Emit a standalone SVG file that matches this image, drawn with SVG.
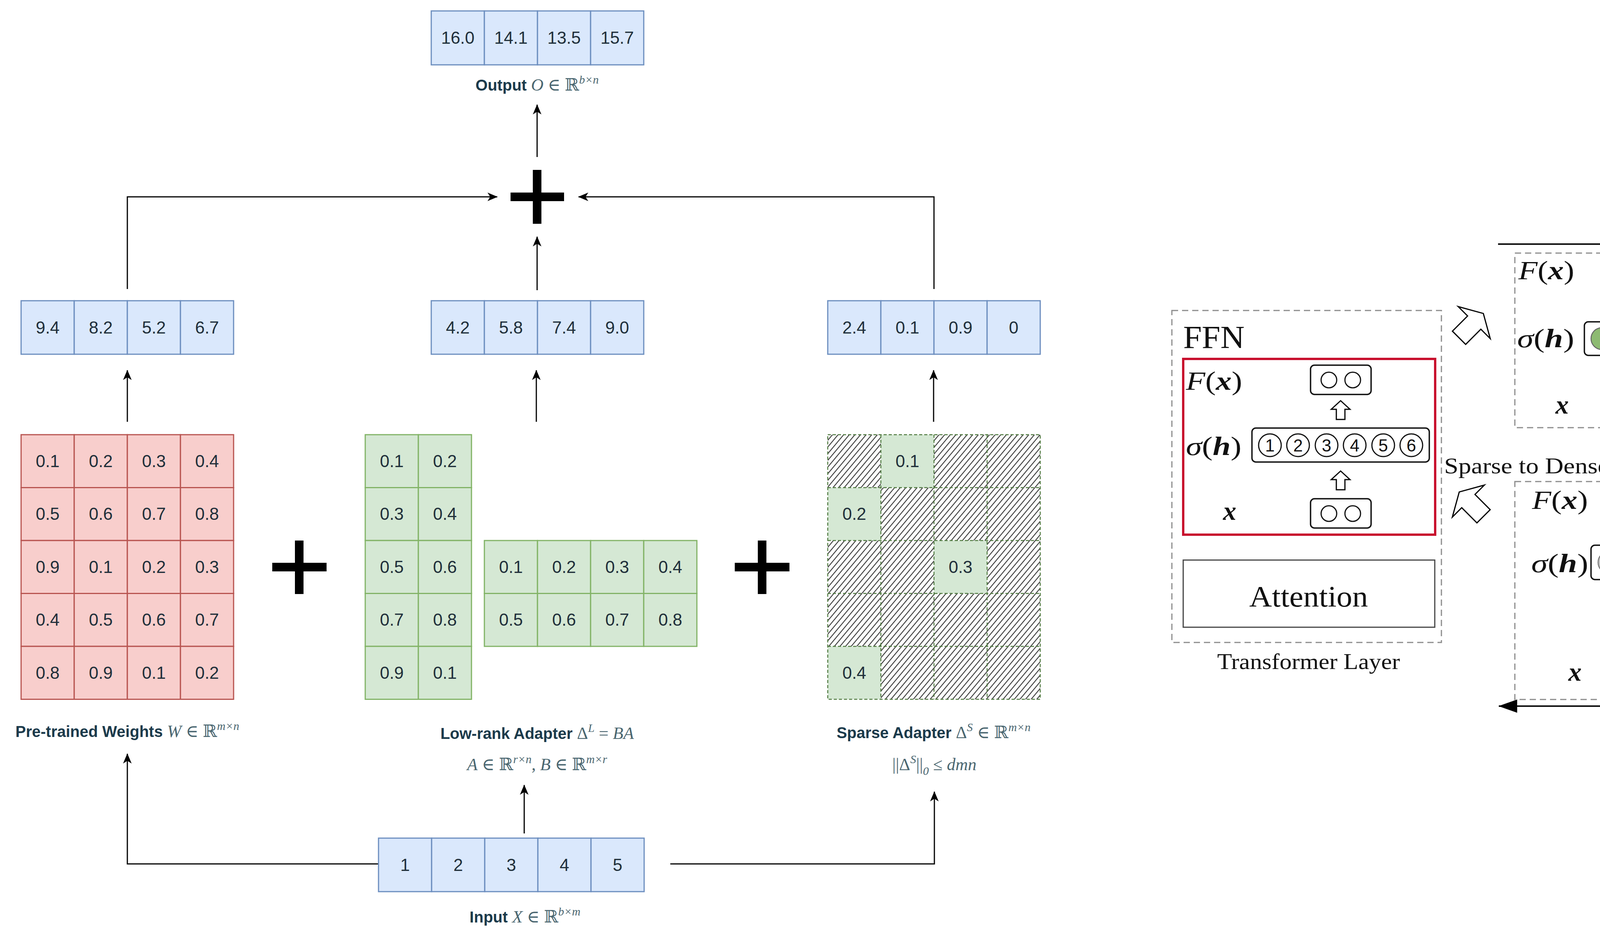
<svg xmlns="http://www.w3.org/2000/svg" xmlns:xlink="http://www.w3.org/1999/xlink" width="6317" height="2435" viewBox="0 0 6317 2435">
<style>
.cb{fill:#dae8fc;stroke:#6c8ebf;stroke-width:3}
.cr{fill:#f8cecc;stroke:#b85450;stroke-width:3}
.cg{fill:#d5e8d4;stroke:#82b366;stroke-width:3}
.ch{fill:url(#hatch);stroke:none}
.cgn{fill:#d5e8d4;stroke:none}
.grid{stroke:#4f7a3f;stroke-width:2.5;stroke-dasharray:8 5;fill:none}
.num{font-family:"Liberation Sans",Arial,sans-serif;font-size:44px;fill:#1f2f3a;text-anchor:middle}
.lb{font-family:"Liberation Sans",Arial,sans-serif;font-weight:bold;font-size:40px;fill:#1b3a4b}
.mi{font-family:"Liberation Serif","DejaVu Serif",serif;font-style:italic;font-size:44px;fill:#4a6670}
.mr{font-family:"Liberation Serif","DejaVu Serif",serif;font-size:44px;fill:#4a6670}
.ms{font-family:"Liberation Serif","DejaVu Serif",serif;font-style:italic;font-size:30px;fill:#4a6670}
.conn{stroke:#000;stroke-width:3;fill:none;marker-end:url(#ah)}
.plus{fill:#000}
.m{font-family:"Liberation Serif","DejaVu Serif",serif;font-size:68px;fill:#111}
.it{font-style:italic}
.bi{font-style:italic;font-weight:bold}
.t{font-family:"Liberation Serif","DejaVu Serif",serif;fill:#111}
.dash{fill:none;stroke:#8c8c8c;stroke-width:3;stroke-dasharray:16 10}
.rb{fill:#fff;stroke:#111;stroke-width:3.5}
.oc{fill:#fff;stroke:#111;stroke-width:3}
.dg{fill:none;stroke:#888;stroke-width:3;stroke-dasharray:12 8}
.G{fill:#8dba72;stroke:#666;stroke-width:2.5}
.P{fill:#97a0d1;stroke:#666;stroke-width:2.5}
.B{fill:#62b4d3;stroke:#666;stroke-width:2.5}
.d{font-family:"Liberation Sans",Arial,sans-serif;font-size:44px;text-anchor:middle}
</style>
<defs>
<marker id="ah" viewBox="0 0 26 22" refX="25" refY="11" markerWidth="26" markerHeight="22" markerUnits="userSpaceOnUse" orient="auto"><path d="M0,0 L26,11 L0,22 L7,11 Z" fill="#000"/></marker>
<marker id="tri" viewBox="0 0 48 34" refX="47" refY="17" markerWidth="48" markerHeight="34" markerUnits="userSpaceOnUse" orient="auto"><path d="M0,0 L48,17 L0,34 Z" fill="#000"/></marker>
<pattern id="hatch" patternUnits="userSpaceOnUse" width="11" height="11" patternTransform="rotate(40)"><line x1="5" y1="0" x2="5" y2="11" stroke="#333" stroke-width="2.2"/></pattern>
<polygon id="ua" points="0,-24 24,-2 11,-2 11,24 -11,24 -11,-2 -24,-2" fill="#fff" stroke="#000" stroke-width="3"/>
<polygon id="bigArrow" points="33,0 0,58 0,24 -55,24 -55,-24 0,-24 0,-58" fill="#fff" stroke="#000" stroke-width="3"/>
<polygon id="smArrow" points="15,0 0,26 0,11 -25,11 -25,-11 0,-11 0,-26" fill="#fff" stroke="#000" stroke-width="3"/>
</defs>
<rect width="6317" height="2435" fill="#fff"/>

<g id="connectors-left">
<polyline class="conn" points="326,740 326,504 1273,504"/>
<polyline class="conn" points="1375,743 1375,606"/>
<polyline class="conn" points="2391,740 2391,504 1481,504"/>
<polyline class="conn" points="1375,402 1375,268"/>
<polyline class="conn" points="326,1080 326,948"/>
<polyline class="conn" points="1373,1080 1373,948"/>
<polyline class="conn" points="2390,1080 2390,948"/>
<polyline class="conn" points="969,2212 326,2212 326,1930"/>
<polyline class="conn" points="1342,2134 1342,2010"/>
<polyline class="conn" points="1716,2212 2392,2212 2392,2027"/>
</g>

<g id="plus-top"><rect class="plus" x="1364" y="435" width="22" height="138"/><rect class="plus" x="1307" y="493" width="137" height="22"/></g>
<g id="plus-1"><rect class="plus" x="755" y="1384" width="22" height="137"/><rect class="plus" x="697" y="1441" width="139" height="22"/></g>
<g id="plus-2"><rect class="plus" x="1940" y="1384" width="22" height="137"/><rect class="plus" x="1881" y="1441" width="140" height="22"/></g>

<g id="output">
<rect class="cb" x="1104" y="28" width="136" height="138"/><rect class="cb" x="1240" y="28" width="136" height="138"/><rect class="cb" x="1376" y="28" width="136" height="138"/><rect class="cb" x="1512" y="28" width="136" height="138"/>
<text class="num" x="1172" y="112">16.0</text><text class="num" x="1308" y="112">14.1</text><text class="num" x="1444" y="112">13.5</text><text class="num" x="1580" y="112">15.7</text>
<text x="1375" y="232" text-anchor="middle"><tspan class="lb">Output </tspan><tspan class="mi">O</tspan><tspan class="mr"> ∈ ℝ</tspan><tspan class="ms" dy="-18">b×n</tspan></text>
</g>

<g id="out-pretrained">
<rect class="cb" x="54" y="770" width="136" height="137"/><rect class="cb" x="190" y="770" width="136" height="137"/><rect class="cb" x="326" y="770" width="136" height="137"/><rect class="cb" x="462" y="770" width="136" height="137"/>
<text class="num" x="122" y="854">9.4</text><text class="num" x="258" y="854">8.2</text><text class="num" x="394" y="854">5.2</text><text class="num" x="530" y="854">6.7</text>
</g>
<g id="out-lowrank">
<rect class="cb" x="1104" y="770" width="136" height="137"/><rect class="cb" x="1240" y="770" width="136" height="137"/><rect class="cb" x="1376" y="770" width="136" height="137"/><rect class="cb" x="1512" y="770" width="136" height="137"/>
<text class="num" x="1172" y="854">4.2</text><text class="num" x="1308" y="854">5.8</text><text class="num" x="1444" y="854">7.4</text><text class="num" x="1580" y="854">9.0</text>
</g>
<g id="out-sparse">
<rect class="cb" x="2119" y="770" width="136" height="137"/><rect class="cb" x="2255" y="770" width="136" height="137"/><rect class="cb" x="2391" y="770" width="136" height="137"/><rect class="cb" x="2527" y="770" width="136" height="137"/>
<text class="num" x="2187" y="854">2.4</text><text class="num" x="2323" y="854">0.1</text><text class="num" x="2459" y="854">0.9</text><text class="num" x="2595" y="854">0</text>
</g>

<g id="pretrained-weights">
<rect class="cr" x="54" y="1113" width="136" height="135.5"/><rect class="cr" x="190" y="1113" width="136" height="135.5"/><rect class="cr" x="326" y="1113" width="136" height="135.5"/><rect class="cr" x="462" y="1113" width="136" height="135.5"/>
<rect class="cr" x="54" y="1248.5" width="136" height="135.5"/><rect class="cr" x="190" y="1248.5" width="136" height="135.5"/><rect class="cr" x="326" y="1248.5" width="136" height="135.5"/><rect class="cr" x="462" y="1248.5" width="136" height="135.5"/>
<rect class="cr" x="54" y="1384" width="136" height="135.5"/><rect class="cr" x="190" y="1384" width="136" height="135.5"/><rect class="cr" x="326" y="1384" width="136" height="135.5"/><rect class="cr" x="462" y="1384" width="136" height="135.5"/>
<rect class="cr" x="54" y="1519.5" width="136" height="135.5"/><rect class="cr" x="190" y="1519.5" width="136" height="135.5"/><rect class="cr" x="326" y="1519.5" width="136" height="135.5"/><rect class="cr" x="462" y="1519.5" width="136" height="135.5"/>
<rect class="cr" x="54" y="1655" width="136" height="135.5"/><rect class="cr" x="190" y="1655" width="136" height="135.5"/><rect class="cr" x="326" y="1655" width="136" height="135.5"/><rect class="cr" x="462" y="1655" width="136" height="135.5"/>
<text class="num" x="122" y="1196">0.1</text><text class="num" x="258" y="1196">0.2</text><text class="num" x="394" y="1196">0.3</text><text class="num" x="530" y="1196">0.4</text>
<text class="num" x="122" y="1331">0.5</text><text class="num" x="258" y="1331">0.6</text><text class="num" x="394" y="1331">0.7</text><text class="num" x="530" y="1331">0.8</text>
<text class="num" x="122" y="1467">0.9</text><text class="num" x="258" y="1467">0.1</text><text class="num" x="394" y="1467">0.2</text><text class="num" x="530" y="1467">0.3</text>
<text class="num" x="122" y="1602">0.4</text><text class="num" x="258" y="1602">0.5</text><text class="num" x="394" y="1602">0.6</text><text class="num" x="530" y="1602">0.7</text>
<text class="num" x="122" y="1738">0.8</text><text class="num" x="258" y="1738">0.9</text><text class="num" x="394" y="1738">0.1</text><text class="num" x="530" y="1738">0.2</text>
<text x="326" y="1887" text-anchor="middle"><tspan class="lb">Pre-trained Weights </tspan><tspan class="mi">W</tspan><tspan class="mr"> ∈ ℝ</tspan><tspan class="ms" dy="-18">m×n</tspan></text>
</g>

<g id="lowrank-B">
<rect class="cg" x="935" y="1113" width="136" height="135.5"/><rect class="cg" x="1071" y="1113" width="136" height="135.5"/>
<rect class="cg" x="935" y="1248.5" width="136" height="135.5"/><rect class="cg" x="1071" y="1248.5" width="136" height="135.5"/>
<rect class="cg" x="935" y="1384" width="136" height="135.5"/><rect class="cg" x="1071" y="1384" width="136" height="135.5"/>
<rect class="cg" x="935" y="1519.5" width="136" height="135.5"/><rect class="cg" x="1071" y="1519.5" width="136" height="135.5"/>
<rect class="cg" x="935" y="1655" width="136" height="135.5"/><rect class="cg" x="1071" y="1655" width="136" height="135.5"/>
<text class="num" x="1003" y="1196">0.1</text><text class="num" x="1139" y="1196">0.2</text>
<text class="num" x="1003" y="1331">0.3</text><text class="num" x="1139" y="1331">0.4</text>
<text class="num" x="1003" y="1467">0.5</text><text class="num" x="1139" y="1467">0.6</text>
<text class="num" x="1003" y="1602">0.7</text><text class="num" x="1139" y="1602">0.8</text>
<text class="num" x="1003" y="1738">0.9</text><text class="num" x="1139" y="1738">0.1</text>
</g>
<g id="lowrank-A">
<rect class="cg" x="1240" y="1384" width="136" height="135.5"/><rect class="cg" x="1376" y="1384" width="136" height="135.5"/><rect class="cg" x="1512" y="1384" width="136" height="135.5"/><rect class="cg" x="1648" y="1384" width="136" height="135.5"/>
<rect class="cg" x="1240" y="1519.5" width="136" height="135.5"/><rect class="cg" x="1376" y="1519.5" width="136" height="135.5"/><rect class="cg" x="1512" y="1519.5" width="136" height="135.5"/><rect class="cg" x="1648" y="1519.5" width="136" height="135.5"/>
<text class="num" x="1308" y="1467">0.1</text><text class="num" x="1444" y="1467">0.2</text><text class="num" x="1580" y="1467">0.3</text><text class="num" x="1716" y="1467">0.4</text>
<text class="num" x="1308" y="1602">0.5</text><text class="num" x="1444" y="1602">0.6</text><text class="num" x="1580" y="1602">0.7</text><text class="num" x="1716" y="1602">0.8</text>
</g>
<g id="lowrank-label">
<text x="1375" y="1892" text-anchor="middle"><tspan class="lb">Low-rank Adapter </tspan><tspan class="mr">Δ</tspan><tspan class="ms" dy="-18">L</tspan><tspan class="mr" dy="18"> = </tspan><tspan class="mi">BA</tspan></text>
<text x="1375" y="1972" text-anchor="middle"><tspan class="mi">A</tspan><tspan class="mr"> ∈ ℝ</tspan><tspan class="ms" dy="-18">r×n</tspan><tspan class="mr" dy="18">, </tspan><tspan class="mi">B</tspan><tspan class="mr"> ∈ ℝ</tspan><tspan class="ms" dy="-18">m×r</tspan></text>
</g>

<g id="sparse-adapter">
<rect class="ch" x="2119" y="1113" width="136" height="135.5"/><rect class="cgn" x="2255" y="1113" width="136" height="135.5"/><rect class="ch" x="2391" y="1113" width="136" height="135.5"/><rect class="ch" x="2527" y="1113" width="136" height="135.5"/>
<rect class="cgn" x="2119" y="1248.5" width="136" height="135.5"/><rect class="ch" x="2255" y="1248.5" width="136" height="135.5"/><rect class="ch" x="2391" y="1248.5" width="136" height="135.5"/><rect class="ch" x="2527" y="1248.5" width="136" height="135.5"/>
<rect class="ch" x="2119" y="1384" width="136" height="135.5"/><rect class="ch" x="2255" y="1384" width="136" height="135.5"/><rect class="cgn" x="2391" y="1384" width="136" height="135.5"/><rect class="ch" x="2527" y="1384" width="136" height="135.5"/>
<rect class="ch" x="2119" y="1519.5" width="136" height="135.5"/><rect class="ch" x="2255" y="1519.5" width="136" height="135.5"/><rect class="ch" x="2391" y="1519.5" width="136" height="135.5"/><rect class="ch" x="2527" y="1519.5" width="136" height="135.5"/>
<rect class="cgn" x="2119" y="1655" width="136" height="135.5"/><rect class="ch" x="2255" y="1655" width="136" height="135.5"/><rect class="ch" x="2391" y="1655" width="136" height="135.5"/><rect class="ch" x="2527" y="1655" width="136" height="135.5"/>
<path class="grid" d="M2119,1113 H2663 V1790.5 H2119 Z M2255,1113 V1790.5 M2391,1113 V1790.5 M2527,1113 V1790.5 M2119,1248.5 H2663 M2119,1384 H2663 M2119,1519.5 H2663 M2119,1655 H2663"/>
<text class="num" x="2323" y="1196">0.1</text>
<text class="num" x="2187" y="1331">0.2</text>
<text class="num" x="2459" y="1467">0.3</text>
<text class="num" x="2187" y="1738">0.4</text>
<text x="2390" y="1890" text-anchor="middle"><tspan class="lb">Sparse Adapter </tspan><tspan class="mr">Δ</tspan><tspan class="ms" dy="-18">S</tspan><tspan class="mr" dy="18"> ∈ ℝ</tspan><tspan class="ms" dy="-18">m×n</tspan></text>
<text x="2392" y="1972" text-anchor="middle"><tspan class="mr">||Δ</tspan><tspan class="ms" dy="-18">S</tspan><tspan class="mr" dy="18">||</tspan><tspan class="ms" font-style="normal" dy="12">0</tspan><tspan class="mr" dy="-12"> ≤ </tspan><tspan class="mi">dmn</tspan></text>
</g>

<g id="input">
<rect class="cb" x="969" y="2146" width="136" height="137"/><rect class="cb" x="1105" y="2146" width="136" height="137"/><rect class="cb" x="1241" y="2146" width="136" height="137"/><rect class="cb" x="1377" y="2146" width="136" height="137"/><rect class="cb" x="1513" y="2146" width="136" height="137"/>
<text class="num" x="1037" y="2230">1</text><text class="num" x="1173" y="2230">2</text><text class="num" x="1309" y="2230">3</text><text class="num" x="1445" y="2230">4</text><text class="num" x="1581" y="2230">5</text>
<text x="1344" y="2362" text-anchor="middle"><tspan class="lb">Input </tspan><tspan class="mi">X</tspan><tspan class="mr"> ∈ ℝ</tspan><tspan class="ms" dy="-18">b×m</tspan></text>
</g>

<g id="transformer-layer">
<rect class="dash" x="3000" y="795" width="690" height="850"/>
<text class="t" x="3029" y="891" font-size="82" textLength="157" lengthAdjust="spacingAndGlyphs">FFN</text>
<rect x="3029" y="919" width="645" height="450" fill="none" stroke="#c8102e" stroke-width="6"/>
<text class="m" x="3036" y="998" textLength="144" lengthAdjust="spacingAndGlyphs"><tspan class="it">F</tspan>(<tspan class="bi">x</tspan>)</text>
<rect class="rb" x="3355" y="935" width="155" height="75" rx="10"/>
<circle class="oc" cx="3402" cy="973" r="20"/><circle class="oc" cx="3463" cy="973" r="20"/>
<use href="#ua" x="3432" y="1050"/>
<text class="m" x="3036" y="1165" textLength="142" lengthAdjust="spacingAndGlyphs"><tspan class="it">σ</tspan>(<tspan class="bi">h</tspan>)</text>
<rect class="rb" x="3205" y="1096" width="454" height="87" rx="10"/>
<g fill="none" stroke="#111" stroke-width="3">
<circle cx="3251" cy="1140" r="29"/><circle cx="3323" cy="1140" r="29"/><circle cx="3396" cy="1140" r="29"/><circle cx="3468" cy="1140" r="29"/><circle cx="3541" cy="1140" r="29"/><circle cx="3613" cy="1140" r="29"/>
</g>
<g class="d" fill="#111">
<text x="3251" y="1156">1</text><text x="3323" y="1156">2</text><text x="3396" y="1156">3</text><text x="3468" y="1156">4</text><text x="3541" y="1156">5</text><text x="3613" y="1156">6</text>
</g>
<use href="#ua" x="3432" y="1230"/>
<text class="m bi" x="3131" y="1331" font-size="74">x</text>
<rect class="rb" x="3355" y="1277" width="155" height="75" rx="10"/>
<circle class="oc" cx="3402" cy="1315" r="20"/><circle class="oc" cx="3463" cy="1315" r="20"/>
<rect x="3029" y="1434" width="644" height="172" fill="none" stroke="#444" stroke-width="3"/>
<text class="t" x="3350" y="1553" font-size="76" text-anchor="middle" textLength="304" lengthAdjust="spacingAndGlyphs">Attention</text>
<text class="t" x="3350" y="1713" font-size="56" text-anchor="middle" textLength="468" lengthAdjust="spacingAndGlyphs">Transformer Layer</text>
</g>

<g id="connectors-right">
<use href="#bigArrow" transform="translate(3774,826) rotate(-45)"/>
<use href="#bigArrow" transform="translate(3759,1283) rotate(-135)"/>
<line x1="3835" y1="625" x2="6050" y2="625" stroke="#111" stroke-width="4" marker-end="url(#tri)"/>
<line x1="6053" y1="1808" x2="3837" y2="1808" stroke="#111" stroke-width="4" marker-end="url(#tri)"/>
<polygon points="5771,1118 5811,1118 5811,1175 5847,1175 5789,1209 5731,1175 5771,1175" fill="#fff" stroke="#000" stroke-width="3"/>
<text class="t" x="4420" y="595" font-size="58" textLength="1099" lengthAdjust="spacingAndGlyphs">Dense Training with Activation Monitor</text>
<text class="t" x="5876" y="1181" font-size="56" textLength="418" lengthAdjust="spacingAndGlyphs">Dense to Sparse</text>
<text class="t" x="4728" y="1784" font-size="58" textLength="427" lengthAdjust="spacingAndGlyphs">Sparse Training</text>
<text class="t" x="3697" y="1212" font-size="56" textLength="422" lengthAdjust="spacingAndGlyphs">Sparse to Dense</text>
</g>

<g id="panel-dense-1">
<rect class="dash" x="3878" y="648" width="645" height="447"/>
<text class="m" x="3887" y="715" textLength="143" lengthAdjust="spacingAndGlyphs"><tspan class="it">F</tspan>(<tspan class="bi">x</tspan>)</text>
<rect class="rb" x="4206" y="663" width="153" height="77" rx="10"/>
<circle class="oc" cx="4251" cy="701" r="20"/><circle class="oc" cx="4313" cy="701" r="20"/>
<use href="#ua" x="4282" y="778"/>
<text class="m" x="3884" y="889" textLength="146" lengthAdjust="spacingAndGlyphs"><tspan class="it">σ</tspan>(<tspan class="bi">h</tspan>)</text>
<rect class="rb" x="4056" y="824" width="452" height="86" rx="10"/>
<circle class="G" cx="4101" cy="867" r="28"/><circle class="P" cx="4173" cy="867" r="28"/><circle class="G" cx="4245" cy="867" r="28"/><circle class="B" cx="4318" cy="867" r="28"/><circle class="B" cx="4391" cy="867" r="28"/><circle class="P" cx="4463" cy="867" r="28"/>
<use href="#ua" x="4282" y="958"/>
<text class="m bi" x="3982" y="1059" font-size="74">x</text>
<rect class="rb" x="4206" y="1005" width="153" height="75" rx="10"/>
<circle class="oc" cx="4251" cy="1042" r="20"/><circle class="oc" cx="4313" cy="1042" r="20"/>
</g>

<g id="panel-dense-2" transform="translate(757,0)">
<rect class="dash" x="3878" y="648" width="645" height="447"/>
<text class="m" x="3887" y="715" textLength="143" lengthAdjust="spacingAndGlyphs"><tspan class="it">F</tspan>(<tspan class="bi">x</tspan>)</text>
<rect class="rb" x="4206" y="663" width="153" height="77" rx="10"/>
<circle class="oc" cx="4251" cy="701" r="20"/><circle class="oc" cx="4313" cy="701" r="20"/>
<use href="#ua" x="4282" y="778"/>
<text class="m" x="3884" y="889" textLength="146" lengthAdjust="spacingAndGlyphs"><tspan class="it">σ</tspan>(<tspan class="bi">h</tspan>)</text>
<rect class="rb" x="4056" y="824" width="452" height="86" rx="10"/>
<circle class="G" cx="4101" cy="867" r="28"/><circle class="P" cx="4173" cy="867" r="28"/><circle class="P" cx="4245" cy="867" r="28"/><circle class="G" cx="4318" cy="867" r="28"/><circle class="B" cx="4391" cy="867" r="28"/><circle class="B" cx="4463" cy="867" r="28"/>
<use href="#ua" x="4282" y="958"/>
<text class="m bi" x="3982" y="1059" font-size="74">x</text>
<rect class="rb" x="4206" y="1005" width="153" height="75" rx="10"/>
<circle class="oc" cx="4251" cy="1042" r="20"/><circle class="oc" cx="4313" cy="1042" r="20"/>
</g>

<g id="panel-dense-3" transform="translate(1510,0)">
<rect class="dash" x="3878" y="648" width="645" height="447"/>
<text class="m" x="3887" y="715" textLength="143" lengthAdjust="spacingAndGlyphs"><tspan class="it">F</tspan>(<tspan class="bi">x</tspan>)</text>
<rect class="rb" x="4206" y="663" width="153" height="77" rx="10"/>
<circle class="oc" cx="4251" cy="701" r="20"/><circle class="oc" cx="4313" cy="701" r="20"/>
<use href="#ua" x="4282" y="778"/>
<text class="m" x="3884" y="889" textLength="146" lengthAdjust="spacingAndGlyphs"><tspan class="it">σ</tspan>(<tspan class="bi">h</tspan>)</text>
<rect class="rb" x="4056" y="824" width="452" height="86" rx="10"/>
<circle class="G" cx="4101" cy="867" r="28"/><circle class="P" cx="4173" cy="867" r="28"/><circle class="B" cx="4245" cy="867" r="28"/><circle class="G" cx="4318" cy="867" r="28"/><circle class="P" cx="4391" cy="867" r="28"/><circle class="B" cx="4463" cy="867" r="28"/>
<use href="#ua" x="4282" y="958"/>
<text class="m bi" x="3982" y="1059" font-size="74">x</text>
<rect class="rb" x="4206" y="1005" width="153" height="75" rx="10"/>
<circle class="oc" cx="4251" cy="1042" r="20"/><circle class="oc" cx="4313" cy="1042" r="20"/>
</g>

<g id="panel-sparse-left">
<rect class="dash" x="3878" y="1233" width="697" height="558"/>
<text class="m" x="3922" y="1303" textLength="143" lengthAdjust="spacingAndGlyphs"><tspan class="it">F</tspan>(<tspan class="bi">x</tspan>)</text>
<rect class="rb" x="4239" y="1250" width="154" height="74" rx="10"/>
<circle class="oc" cx="4285" cy="1287" r="20"/><circle class="oc" cx="4347" cy="1287" r="20"/>
<use href="#ua" x="4316" y="1360"/>
<text class="m" x="3920" y="1465" textLength="146" lengthAdjust="spacingAndGlyphs"><tspan class="it">σ</tspan>(<tspan class="bi">h</tspan>)</text>
<rect class="rb" x="4073" y="1396" width="153" height="88" rx="10"/>
<rect class="dg" x="4239" y="1396" width="154" height="88" rx="10"/>
<rect class="dg" x="4405" y="1396" width="155" height="88" rx="10"/>
<g fill="#c4c4c4" stroke="#777" stroke-width="2.5"><circle cx="4119" cy="1440" r="28"/><circle cx="4191" cy="1440" r="28"/></g>
<g fill="#e3e3e3" stroke="#b5b5b5" stroke-width="2.5"><circle cx="4281" cy="1440" r="28"/><circle cx="4352" cy="1440" r="28"/><circle cx="4443" cy="1440" r="28"/><circle cx="4514" cy="1440" r="28"/></g>
<g class="d" fill="#111"><text x="4119" y="1456">1</text><text x="4191" y="1456">4</text></g>
<g class="d" fill="#6a6a6a"><text x="4281" y="1456">2</text><text x="4352" y="1456">5</text><text x="4443" y="1456">3</text><text x="4514" y="1456">6</text></g>
<use href="#ua" x="4316" y="1515"/>
<rect class="rb" x="4239" y="1552" width="154" height="75" rx="10"/>
<text class="t" x="4316" y="1604" font-size="44" text-anchor="middle">Router</text>
<use href="#ua" x="4316" y="1658"/>
<text class="m bi" x="4015" y="1743" font-size="74">x</text>
<rect class="rb" x="4239" y="1691" width="154" height="74" rx="10"/>
<circle class="oc" cx="4285" cy="1728" r="20"/><circle class="oc" cx="4347" cy="1728" r="20"/>
</g>

<g id="panel-sparse-right">
<rect class="dash" x="5339" y="1236" width="694" height="557"/>
<text class="m" x="5382" y="1305" textLength="143" lengthAdjust="spacingAndGlyphs"><tspan class="it">F</tspan>(<tspan class="bi">x</tspan>)</text>
<rect class="rb" x="5699" y="1251" width="154" height="74" rx="10"/>
<circle class="oc" cx="5745" cy="1288" r="20"/><circle class="oc" cx="5806" cy="1288" r="20"/>
<use href="#smArrow" transform="translate(5686,1362) rotate(-45)"/>
<text class="m" x="5382" y="1461" textLength="146" lengthAdjust="spacingAndGlyphs"><tspan class="it">σ</tspan>(<tspan class="bi">h</tspan>)</text>
<rect x="5532" y="1396" width="155" height="87" fill="#fff" stroke="#111" stroke-width="3.5"/>
<rect class="dg" x="5697" y="1396" width="156" height="87" rx="10"/>
<rect class="dg" x="5864" y="1396" width="155" height="87" rx="10"/>
<g fill="#8dba72" stroke="#666" stroke-width="2.5"><circle cx="5578" cy="1441" r="28"/><circle cx="5649" cy="1441" r="28"/></g>
<g fill="#c3c8e8" stroke="#aaa" stroke-width="2.5"><circle cx="5739" cy="1441" r="28"/><circle cx="5811" cy="1441" r="28"/></g>
<g fill="#a9d6e4" stroke="#aaa" stroke-width="2.5"><circle cx="5901" cy="1441" r="28"/><circle cx="5974" cy="1441" r="28"/></g>
<g class="d" fill="#111"><text x="5578" y="1457">1</text><text x="5649" y="1457">4</text></g>
<g class="d" fill="#5a5a5a"><text x="5739" y="1457">2</text><text x="5811" y="1457">5</text><text x="5901" y="1457">3</text><text x="5974" y="1457">6</text></g>
<use href="#smArrow" transform="translate(5690,1516) rotate(-135)"/>
<rect class="rb" x="5699" y="1553" width="154" height="74" rx="10"/>
<text class="t" x="5776" y="1605" font-size="44" text-anchor="middle">Router</text>
<use href="#ua" x="5777" y="1660"/>
<text class="m bi" x="5475" y="1742" font-size="74">x</text>
<rect class="rb" x="5699" y="1690" width="154" height="75" rx="10"/>
<circle class="oc" cx="5745" cy="1727" r="20"/><circle class="oc" cx="5806" cy="1727" r="20"/>
</g>
</svg>
